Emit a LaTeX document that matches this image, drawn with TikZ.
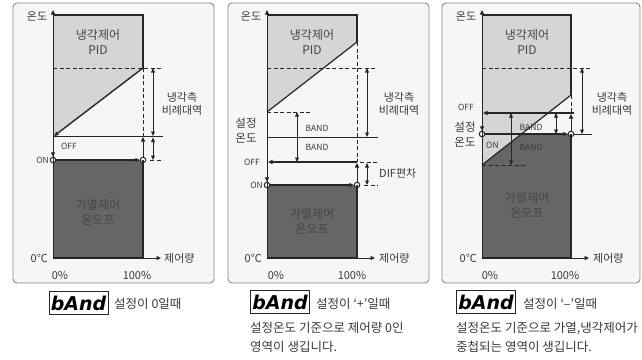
\documentclass[tikz,border=0pt]{standalone}
\usepackage{fontspec}
\newfontfamily\kr{Noto Sans CJK KR}
\newfontfamily\lcd{DejaVu Sans}
\usetikzlibrary{arrows.meta}
\definecolor{panelbg}{HTML}{F6F6F6}
\definecolor{framec}{HTML}{8A8A8A}
\definecolor{lightfill}{HTML}{D5D5D5}
\definecolor{darkfill}{HTML}{666666}
\definecolor{linec}{HTML}{262626}
\definecolor{txt}{HTML}{3A3A3A}
\definecolor{boxtxt}{HTML}{454545}
\tikzset{
 panel/.style={draw=framec, line width=0.9pt, fill=panelbg, rounded corners=4pt},
 lbl/.style={font=\kr\fontsize{11}{13}\selectfont, text=txt, inner sep=0pt, align=center},
 boxlbl/.style={font=\kr\fontsize{12}{15}\selectfont, text=boxtxt, align=center, inner sep=0pt},
 small/.style={font=\kr\fontsize{8.5}{9}\selectfont, text=txt, inner sep=0pt},
 captxt/.style={font=\kr\fontsize{12.5}{19}\selectfont, text=txt, inner sep=0pt, align=left},
 icon/.style={draw=linec, line width=0.8pt, fill=white, minimum width=59pt, minimum height=23pt, inner sep=0pt, font=\lcd\bfseries\itshape\fontsize{19}{19}\selectfont},
 axis/.style={draw=linec, line width=0.9pt},
 thinl/.style={draw=linec, line width=0.8pt},
 edge/.style={draw=linec, line width=1.4pt},
 dashline/.style={draw=linec, line width=0.8pt, dash pattern=on 4pt off 2.5pt},
 dim/.style={draw=linec, line width=0.8pt, {Triangle[length=4.5pt,width=3.8pt]}-{Triangle[length=4.5pt,width=3.8pt]}},
 tip/.style={-{Triangle[length=4.5pt,width=4pt]}},
 ring/.style={circle, draw=linec, fill=white, line width=1pt, minimum size=5.5pt, inner sep=0pt},
}
\begin{document}
\begin{tikzpicture}[x=1pt,y=-1pt]
\useasboundingbox (0,0) rectangle (642,359);
\fill[white] (0,0) rectangle (642,359);
% frames
\draw[panel] (13,3) rectangle (214,283);
\draw[panel] (228,3) rectangle (429,283);
\draw[panel] (442,3) rectangle (640,283);

%================ Panel 1 ================
\fill[lightfill] (53,15) -- (143,15) -- (143,68) -- (53,136) -- cycle;
\fill[darkfill] (53,160) rectangle (143,258);
\coordinate (p1tl) at (53,15);
\coordinate (p1tr) at (143,15);
\coordinate (p1dr) at (143,68);
\coordinate (p1dl) at (54,136);
\draw[edge] (p1tl) -- (p1tr) -- (p1dr);
\draw[dashline] (53,68) -- (163,68);
\draw[dashline] (143,68) -- (143,136);
\draw[thinl, line width=1pt] (53,136) -- (163,136);
\draw[edge, tip] (p1dr) -- (p1dl);
\node[ring] (on1a) at (53,160) {};
\node[ring] (on1b) at (143,160) {};
\draw[edge] (143,160) -- (143,258) -- (53,258);
\draw[axis, tip] (53,136) -- (on1a);
\draw[axis, tip] (on1b) -- (143,137);
\draw[edge, tip] (on1a) -- (on1b);
\draw[dim] (153,68) -- (153,136);
\draw[dim] (153,137.5) -- (153,160);
\draw[dashline] (150,160) -- (163,160);
\draw[axis, tip] (53,258) -- (53,10);
\draw[axis, tip] (53,258) -- (161,258);
\node[lbl] (t1) at (37,16) {온도};
\node[boxlbl] (c1) at (98,42) {냉각제어\\PID};
\node[boxlbl] (h1) at (98,212) {가열제어\\온오프};
\node[lbl] (b1) at (182,104) {냉각측\\비례대역};
\node[small] (off1) at (69,146) {OFF};
\node[small, anchor=east] (onl1) at (49,160) {ON};
\node[lbl, anchor=east] (z1) at (48,258) {0℃};
\node[lbl, anchor=west] (x1) at (164,258) {제어량};
\node[lbl] (p01) at (60,275) {0\%};
\node[lbl] (p1001) at (137,275) {100\%};

%================ Panel 2 ================
\fill[lightfill] (267,15) -- (357,15) -- (357,42) -- (267,112) -- cycle;
\fill[darkfill] (267,185) rectangle (357,258);
\coordinate (p2tl) at (267,15);
\coordinate (p2tr) at (357,15);
\coordinate (p2dr) at (357,42);
\coordinate (p2dl) at (267,112);
\draw[edge] (p2tl) -- (p2tr) -- (p2dr);
\draw[edge, line width=1.2pt] (p2dr) -- (p2dl);
\draw[dashline] (267,68) -- (377,68);
\draw[dashline] (267,112) -- (310,112);
\draw[dashline] (357,42) -- (357,162);
\draw[thinl] (267,137) -- (378,137);
\draw[dim] (367,68) -- (367,137);
\draw[dim] (297,112) -- (297,162);
\draw[edge, tip] (357,162) -- (268,162);
\draw[dashline] (360,162) -- (378,162);
\node[ring] (on2a) at (267,185) {};
\node[ring] (on2b) at (357,185) {};
\draw[edge] (357,185) -- (357,258) -- (267,258);
\draw[axis, tip] (267,162) -- (on2a);
\draw[axis, tip] (on2b) -- (357,163);
\draw[edge, tip] (on2a) -- (on2b);
\draw[dim] (367,163) -- (367,185);
\draw[dashline] (364,185) -- (378,185);
\draw[axis, tip] (267,258) -- (267,10);
\draw[axis, tip] (267,258) -- (375,258);
\node[lbl] (t2) at (251,16) {온도};
\node[boxlbl] (c2) at (312,42) {냉각제어\\PID};
\node[boxlbl] (h2) at (312,221) {가열제어\\온오프};
\node[lbl] (b2) at (399,104) {냉각측\\비례대역};
\node[lbl, font=\kr\fontsize{11.5}{15}\selectfont] (s2) at (246,131) {설정\\온도};
\node[small] (bd2a) at (317,128) {BAND};
\node[small] (bd2b) at (317,147) {BAND};
\node[small] (off2) at (252,162) {OFF};
\node[small, anchor=east] (onl2) at (263,185) {ON};
\node[lbl, anchor=west] (dif2) at (379,173) {DIF편차};
\node[lbl, anchor=east] (z2) at (262,258) {0℃};
\node[lbl, anchor=west] (x2) at (379,258) {제어량};
\node[lbl] (p02) at (276,275) {0\%};
\node[lbl] (p1002) at (352,275) {100\%};

%================ Panel 3 ================
\fill[darkfill] (482,134) rectangle (571,258);
\fill[lightfill] (482,15) -- (571,15) -- (571,95) -- (482,165) -- cycle;
\coordinate (p3tl) at (482,15);
\coordinate (p3tr) at (571,15);
\coordinate (p3dr) at (571,95);
\coordinate (p3dl) at (482,165);
\draw[edge] (p3tl) -- (p3tr) -- (p3dr);
\draw[edge, line width=1.2pt] (p3dr) -- (p3dl);
\draw[dashline] (482,68) -- (592,68);
\draw[dashline] (482,165) -- (527,165);
\draw[dashline] (571,95) -- (571,113);
\draw[thinl] (482,134) -- (592,134);
\draw[edge, tip] (574,113) -- (483,113);
\draw[dim] (582,68) -- (582,134);
\draw[dim] (511,113) -- (511,165);
\draw[dim] (556,113) -- (556,134);
\node[ring] (on3a) at (482,134) {};
\node[ring] (on3b) at (571,134) {};
\draw[edge] (571,134) -- (571,258) -- (482,258);
\draw[axis, tip] (482,113) -- (on3a);
\draw[axis, tip] (on3b) -- (571,114);
\draw[edge, tip] (on3a) -- (on3b);
\draw[axis, tip] (482,258) -- (482,10);
\draw[axis, tip] (482,258) -- (589,258);
\node[lbl] (t3) at (466,16) {온도};
\node[boxlbl] (c3) at (527,42) {냉각제어\\PID};
\node[boxlbl] (h3) at (527,205) {가열제어\\온오프};
\node[lbl] (b3) at (612,104) {냉각측\\비례대역};
\node[lbl, font=\kr\fontsize{11.5}{15}\selectfont] (s3) at (465,135) {설정\\온도};
\node[small] (off3) at (466,107) {OFF};
\node[small, anchor=west] (onl3) at (486,145) {ON};
\node[small] (bd3a) at (531,127) {BAND};
\node[small] (bd3b) at (531,147) {BAND};
\node[lbl, anchor=east] (z3) at (477,258) {0℃};
\node[lbl, anchor=west] (x3) at (593,258) {제어량};
\node[lbl] (p03) at (490,275) {0\%};
\node[lbl] (p1003) at (565,275) {100\%};

%================ Captions ================
\node[icon] (i1) at (78.5,303) {bAnd};
\node[captxt, anchor=west] (k1) at (114,304) {설정이 0일때};
\node[icon] (i2) at (280,302) {bAnd};
\node[captxt, anchor=west] (k2) at (316,304) {설정이 ‘+’일때};
\node[captxt, anchor=north west] (k2b) at (250,322) {설정온도 기준으로 제어량 0인\\영역이 생깁니다.};
\node[icon] (i3) at (486,302) {bAnd};
\node[captxt, anchor=west] (k3) at (523,304) {설정이 ‘–’일때};
\node[captxt, anchor=north west] (k3b) at (456,322) {설정온도 기준으로 가열,냉각제어가\\중첩되는 영역이 생깁니다.};
\end{tikzpicture}
\end{document}
